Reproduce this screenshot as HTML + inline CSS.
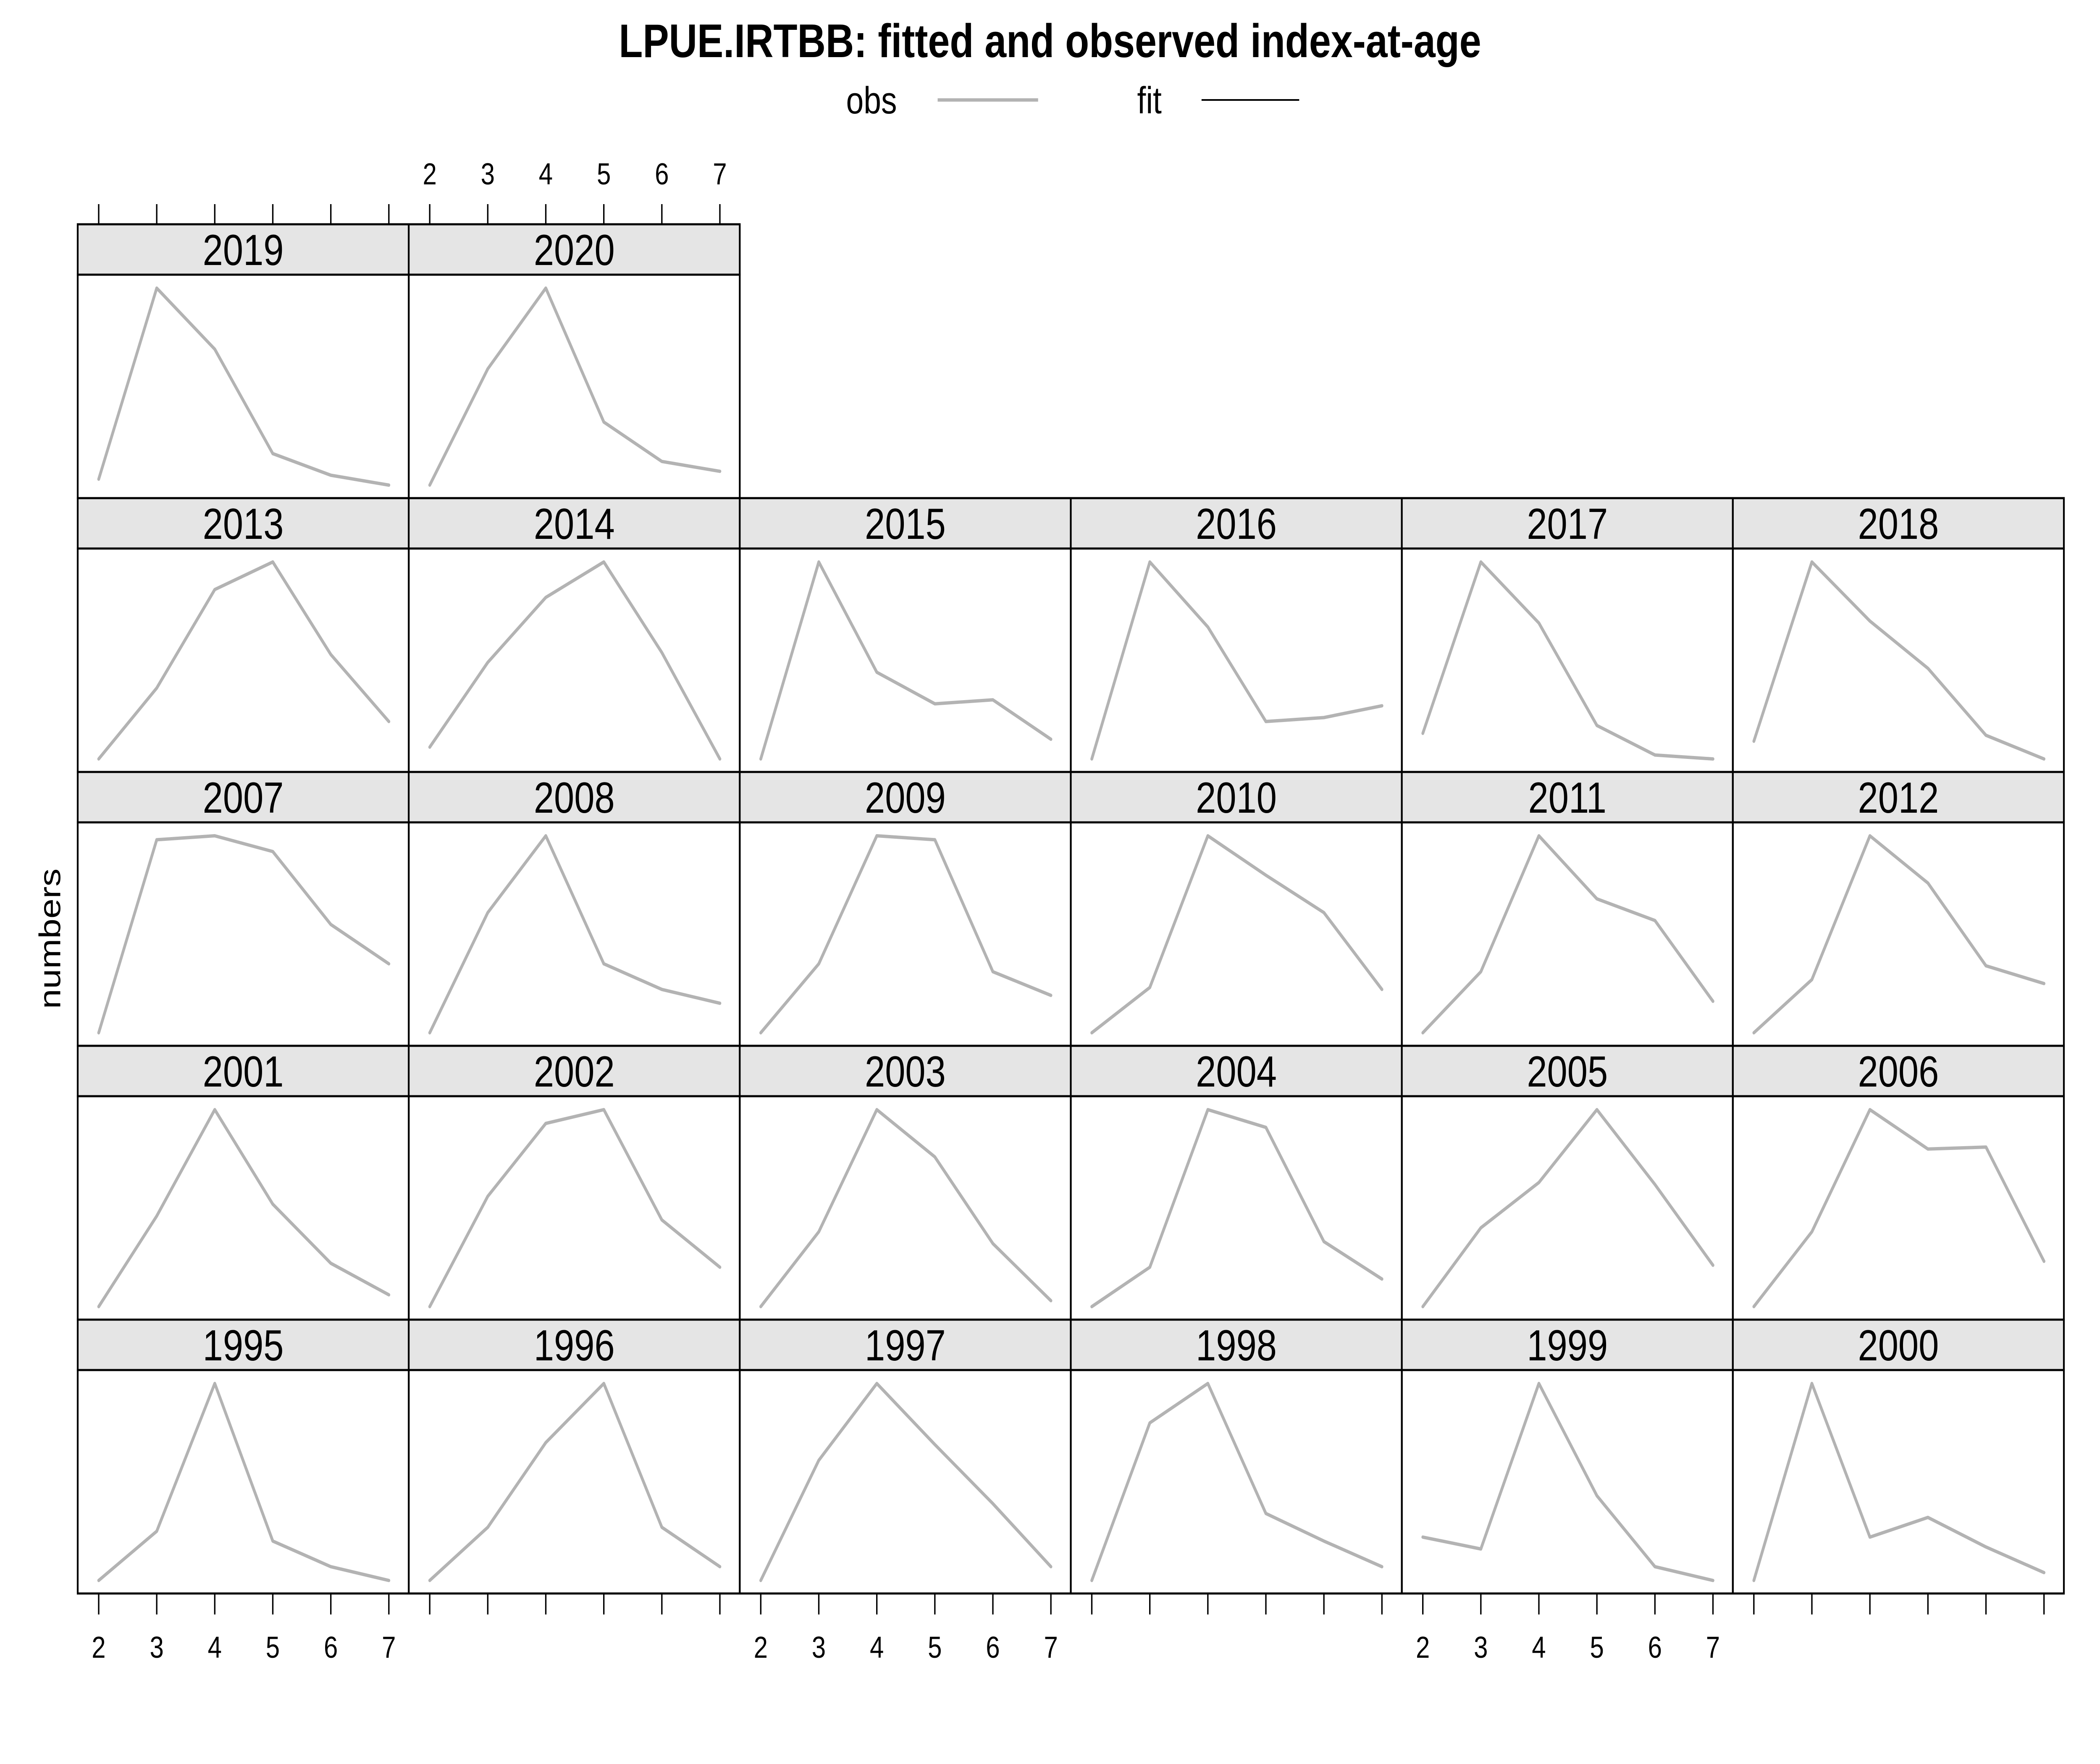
<!DOCTYPE html>
<html><head><meta charset="utf-8">
<style>
html,body{margin:0;padding:0;background:#fff;width:100%;height:100%;overflow:hidden;}
svg{display:block;width:100vw;height:100vh;font-family:"Liberation Sans",Arial,sans-serif;}
</style></head>
<body>
<svg id="chart" viewBox="0 0 6000 4200" preserveAspectRatio="none" xmlns="http://www.w3.org/2000/svg">
<rect width="6000" height="4200" fill="#fff"/>
<text x="3000" y="136" text-anchor="middle" font-size="112" font-weight="bold">LPUE.IRTBB: fitted and observed index-at-age</text>
<g>
<text x="2490" y="270" text-anchor="middle" font-size="90">obs</text>
<line x1="2679" y1="238" x2="2966" y2="238" stroke="#b3b3b3" stroke-width="8"/>
<text x="3284" y="270" text-anchor="middle" font-size="90">fit</text>
<line x1="3433" y1="238" x2="3712" y2="238" stroke="#000" stroke-width="4"/>
</g>
<text transform="translate(172,2235) rotate(-90)" text-anchor="middle" font-size="86">numbers</text>
<g id="panels"></g>
</svg>
<script>
const ages = [2, 3, 4, 5, 6, 7];
const ageLabels = ["2", "3", "4", "5", "6", "7"];
const layoutRows = [
  [2019, 2020],
  [2013, 2014, 2015, 2016, 2017, 2018],
  [2007, 2008, 2009, 2010, 2011, 2012],
  [2001, 2002, 2003, 2004, 2005, 2006],
  [1995, 1996, 1997, 1998, 1999, 2000]
];
const obs2019 = [0.03, 1, 0.69, 0.16, 0.05, 0];
const obs2020 = [0, 0.59, 1, 0.32, 0.12, 0.07];
const obs2013 = [0, 0.36, 0.86, 1, 0.53, 0.19];
const obs2014 = [0.06, 0.49, 0.82, 1, 0.54, 0];
const obs2015 = [0, 1, 0.44, 0.28, 0.30, 0.10];
const obs2016 = [0, 1, 0.67, 0.19, 0.21, 0.27];
const obs2017 = [0.13, 1, 0.69, 0.17, 0.02, 0];
const obs2018 = [0.09, 1, 0.70, 0.46, 0.12, 0];
const obs2007 = [0, 0.98, 1, 0.92, 0.55, 0.35];
const obs2008 = [0, 0.61, 1, 0.35, 0.22, 0.15];
const obs2009 = [0, 0.35, 1, 0.98, 0.31, 0.19];
const obs2010 = [0, 0.23, 1, 0.80, 0.61, 0.22];
const obs2011 = [0, 0.31, 1, 0.68, 0.57, 0.16];
const obs2012 = [0, 0.27, 1, 0.76, 0.34, 0.25];
const obs2001 = [0, 0.46, 1, 0.52, 0.22, 0.06];
const obs2002 = [0, 0.56, 0.93, 1, 0.44, 0.20];
const obs2003 = [0, 0.38, 1, 0.76, 0.32, 0.03];
const obs2004 = [0, 0.20, 1, 0.91, 0.33, 0.14];
const obs2005 = [0, 0.40, 0.63, 1, 0.62, 0.21];
const obs2006 = [0, 0.38, 1, 0.80, 0.81, 0.23];
const obs1995 = [0, 0.25, 1, 0.20, 0.07, 0];
const obs1996 = [0, 0.27, 0.70, 1, 0.27, 0.07];
const obs1997 = [0, 0.61, 1, 0.69, 0.39, 0.07];
const obs1998 = [0, 0.80, 1, 0.34, 0.20, 0.07];
const obs1999 = [0.22, 0.16, 1, 0.43, 0.07, 0];
const obs2000 = [0, 1, 0.22, 0.32, 0.17, 0.04];
const obsByYear = {2019:obs2019,2020:obs2020,2013:obs2013,2014:obs2014,2015:obs2015,2016:obs2016,2017:obs2017,2018:obs2018,
2007:obs2007,2008:obs2008,2009:obs2009,2010:obs2010,2011:obs2011,2012:obs2012,2001:obs2001,2002:obs2002,2003:obs2003,2004:obs2004,
2005:obs2005,2006:obs2006,1995:obs1995,1996:obs1996,1997:obs1997,1998:obs1998,1999:obs1999,2000:obs2000};

const NS = "http://www.w3.org/2000/svg";
const g = document.getElementById("panels");
const L0 = 222, PW = 945.8, T0 = 534, RH = 652, SH = 120;
function mk(tag, attrs){const e=document.createElementNS(NS,tag);for(const k in attrs)e.setAttribute(k,attrs[k]);return e;}
function xScale(col, a){const mn=Math.min(...ages),mx=Math.max(...ages);return L0+col*PW+60+(a-mn)/(mx-mn)*829;}
function yScale(row, v, lo, hi){const top=T0+row*RH+SH+32, bot=T0+(row+1)*RH-31;return bot-(v-lo)/((hi-lo)||1)*(bot-top);}

layoutRows.forEach((years,row)=>{
  years.forEach((yr,col)=>{
    const x0=L0+col*PW, y0=T0+row*RH;
    const vals=obsByYear[yr];
    const lo=Math.min(...vals), hi=Math.max(...vals);
    const pg=mk("g",{});
    
    
    const strip=mk("rect",{x:x0,y:y0,width:PW,height:SH,fill:"#e5e5e5",stroke:"#000","stroke-width":5});
    
    
    pg.appendChild(strip);
    const st=mk("text",{x:x0+PW/2,y:y0+SH/2+37,"text-anchor":"middle","font-size":104});
    st.textContent=yr;
    
    
    pg.appendChild(st);
    const box=mk("rect",{x:x0,y:y0+SH,width:PW,height:RH-SH,fill:"none",stroke:"#000","stroke-width":5});
    
    
    pg.appendChild(box);
    const pts=ages.map((a,i)=>xScale(col,a).toFixed(1)+","+yScale(row,vals[i],lo,hi).toFixed(1)).join(" ");
    const pl=mk("polyline",{points:pts,fill:"none",stroke:"#b3b3b3","stroke-width":8,"stroke-linejoin":"round","stroke-linecap":"round"});
    
    
    pg.appendChild(pl);
    if(row===0){
      ages.forEach((a,i)=>{
        const tx=xScale(col,a);
        const tk=mk("line",{x1:tx,y1:y0-48,x2:tx,y2:y0,stroke:"#000","stroke-width":4});
        
        
        pg.appendChild(tk);
        if(col%2===1){
          const tl=mk("text",{x:tx,y:y0-95,"text-anchor":"middle","font-size":72});
          tl.textContent=ageLabels[i];
          
          
          pg.appendChild(tl);
        }
      });
    }
    if(row===layoutRows.length-1){
      const yb=T0+(row+1)*RH;
      ages.forEach((a,i)=>{
        const tx=xScale(col,a);
        const tk=mk("line",{x1:tx,y1:yb,x2:tx,y2:yb+50,stroke:"#000","stroke-width":4});
        
        
        pg.appendChild(tk);
        if(col%2===0){
          const tl=mk("text",{x:tx,y:yb+153,"text-anchor":"middle","font-size":72});
          tl.textContent=ageLabels[i];
          
          
          pg.appendChild(tl);
        }
      });
    }
    g.appendChild(pg);
  });
});
</script>
</body></html>
